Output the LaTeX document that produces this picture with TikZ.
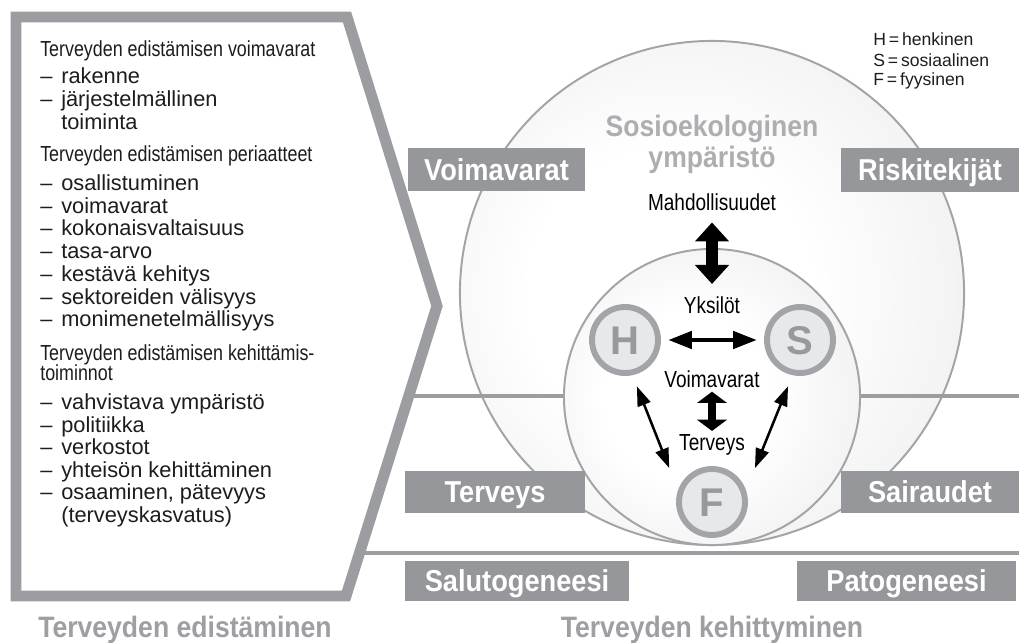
\documentclass[tikz,border=0pt]{standalone}
\usepackage{fontspec}
\setmainfont{Liberation Sans}
\newfontfamily\condfont[FakeStretch=0.82]{Liberation Sans}
\newfontfamily\heavycond[FakeStretch=0.9]{Liberation Sans}
\usetikzlibrary{arrows.meta}
\definecolor{tabgray}{RGB}{150,151,155}
\definecolor{rulegray}{RGB}{156,157,161}
\definecolor{rimgray}{RGB}{163,164,168}
\definecolor{discedge}{RGB}{222,223,225}
\definecolor{ringfill}{RGB}{231,232,233}
\definecolor{lettergray}{RGB}{152,153,157}
\definecolor{envgray}{RGB}{174,174,178}
\definecolor{footgray}{RGB}{158,159,163}
\definecolor{inkdark}{RGB}{30,28,30}
\pgfdeclareradialshading{discshade}{\pgfpoint{-6bp}{0bp}}{color(0bp)=(white); color(14bp)=(white); color(50bp)=(discedge)}
\tikzset{
  chevron/.style={draw=rulegray, line width=7.8pt, fill=white, line join=miter},
  divider/.style={draw=rulegray, line width=2.8pt},
  envdisc/.style={circle, draw=rimgray, line width=1.4pt, shade, shading=discshade,
                  minimum size=12.6cm, inner sep=0pt},
  persdisc/.style={envdisc, minimum size=7.4cm},
  dimring/.style={circle, draw=rimgray, line width=4.2pt, fill=ringfill,
                  minimum size=1.65cm, inner sep=0pt, text=lettergray,
                  text height=20.5pt, text depth=0pt,
                  font=\bfseries\fontsize{28.5}{28.5}\selectfont},
  tag/.style={fill=tabgray, text=white, inner sep=0pt, minimum height=1.075cm,
              text height=15.5pt, text depth=0pt,
              font=\heavycond\bfseries\fontsize{21.5}{21.5}\selectfont},
  envtitle/.style={anchor=base, inner sep=0pt, text=envgray,
                   font=\heavycond\bfseries\fontsize{21}{21}\selectfont},
  footlabel/.style={anchor=base, inner sep=0pt, text=footgray,
                    font=\heavycond\bfseries\fontsize{21}{21}\selectfont},
  inlabel/.style={anchor=base, inner sep=0pt, text=black,
                  font=\condfont\fontsize{16.5}{16.5}\selectfont},
  listitem/.style={anchor=base west, inner sep=0pt, text=inkdark,
                   font=\fontsize{15.5}{16}\selectfont},
  listhead/.style={listitem, font=\condfont\fontsize{15.5}{16}\selectfont},
  legend/.style={anchor=base west, inner sep=0pt, text=inkdark,
                 font=\fontsize{12.5}{13}\selectfont},
  bigboth/.style={line width=8.5pt,
    {Triangle[width=23.5pt,length=13.5pt]}-{Triangle[width=23.5pt,length=13.5pt]}},
  stubboth/.style={line width=5.7pt,
    {Triangle[width=21pt,length=8pt]}-{Triangle[width=21pt,length=8pt]}},
  sideboth/.style={line width=3.5pt,
    {Triangle[width=12pt,length=17pt]}-{Triangle[width=12pt,length=17pt]}},
  slimboth/.style={line width=1.8pt,
    {Triangle[width=9.5pt,length=14pt]}-{Triangle[width=9.5pt,length=14pt]}},
}
\begin{document}
\begin{tikzpicture}[x=0.025cm,y=-0.025cm]
  \path[use as bounding box] (0,0) rectangle (1019,643);

  % discs and dividers
  \node[envdisc] (env) at (712,293) {};
  \coordinate (upL) at (406,396);
  \coordinate (upR) at (1019,396);
  \coordinate (lowL) at (360,553);
  \coordinate (lowR) at (1019,553);
  \draw[divider] (upL) -- (upR);
  \draw[divider] (lowL) -- (lowR);
  \node[persdisc] (self) at (712,397) {};

  \draw[chevron] (16,17) -- (347,17) -- (437,306) -- (346,596) -- (16,596) -- cycle;

  \node[listhead] (head1) at (40,57) {Terveyden edistämisen voimavarat};
  \node[listhead] (head2) at (40,162) {Terveyden edistämisen periaatteet};
  \node[listhead] (head3) at (40,360) {Terveyden edistämisen kehittämis-};
  \node[listhead] (head4) at (40,380) {toiminnot};
  \foreach \y/\txt [count=\k] in {
      84/rakenne, 107/järjestelmällinen,
      191/osallistuminen, 214/voimavarat, 236/kokonaisvaltaisuus, 259/tasa-arvo,
      281/kestävä kehitys, 304/sektoreiden välisyys, 326/monimenetelmällisyys,
      409/vahvistava ympäristö, 432/politiikka, 454/verkostot,
      477/yhteisön kehittäminen, 499/{osaaminen, pätevyys}}
    {\node[listitem] (dash\k) at (40,\y) {–};
     \node[listitem] (item\k) at (61,\y) {\txt};}
  \node[listitem] (cont1) at (61,130) {toiminta};
  \node[listitem] (cont2) at (61,522) {(terveyskasvatus)};

  \foreach \y/\txt [count=\k] in {46/H\,=\,henkinen, 67/S\,=\,sosiaalinen, 86/F\,=\,fyysinen}
    {\node[legend] (key\k) at (873,\y) {\txt};}

  \node[tag, minimum width=4.425cm] (resources) at (496.5,169.5) {Voimavarat};
  \node[tag, minimum width=4.45cm] (risks) at (930,170) {Riskitekijät};
  \node[tag, minimum width=4.5cm, minimum height=1.05cm] (health) at (495,492) {Terveys};
  \node[tag, minimum width=4.45cm, minimum height=1.05cm] (illness) at (930,492) {Sairaudet};
  \node[tag, minimum width=5.6cm, minimum height=1cm] (saluto) at (517,581) {Salutogeneesi};
  \node[tag, minimum width=5.475cm, minimum height=1cm] (pato) at (906.5,581) {Patogeneesi};

  \node[envtitle] (envname1) at (712,137) {Sosioekologinen};
  \node[envtitle] (envname2) at (712,168) {ympäristö};
  \node[inlabel] (mahd) at (712,210) {Mahdollisuudet};
  \node[inlabel] (yks) at (712,313) {Yksilöt};
  \node[inlabel] (vara) at (712,387) {Voimavarat};
  \node[inlabel] (terv) at (712,450) {Terveys};

  \node[dimring] (H) at (625,340) {H};
  \node[dimring] (S) at (800,340) {S};
  \node[dimring] (F) at (712,502) {F};

  \draw[bigboth, shorten <=8.5pt, shorten >=8.5pt] (mahd) -- (yks);
  \draw[stubboth, shorten <=3pt, shorten >=2pt] (vara) -- (terv);
  \draw[sideboth, shorten <=5pt, shorten >=5pt] (H) -- (S);
  \draw[slimboth, shorten <=8.5pt, shorten >=17pt] (H.-78) -- (F.161);
  \draw[slimboth, shorten <=8.5pt, shorten >=17pt] (S.-102) -- (F.19);

  \node[footlabel] (promo) at (185,637) {Terveyden edistäminen};
  \node[footlabel] (devel) at (712,637) {Terveyden kehittyminen};
\end{tikzpicture}
\end{document}
